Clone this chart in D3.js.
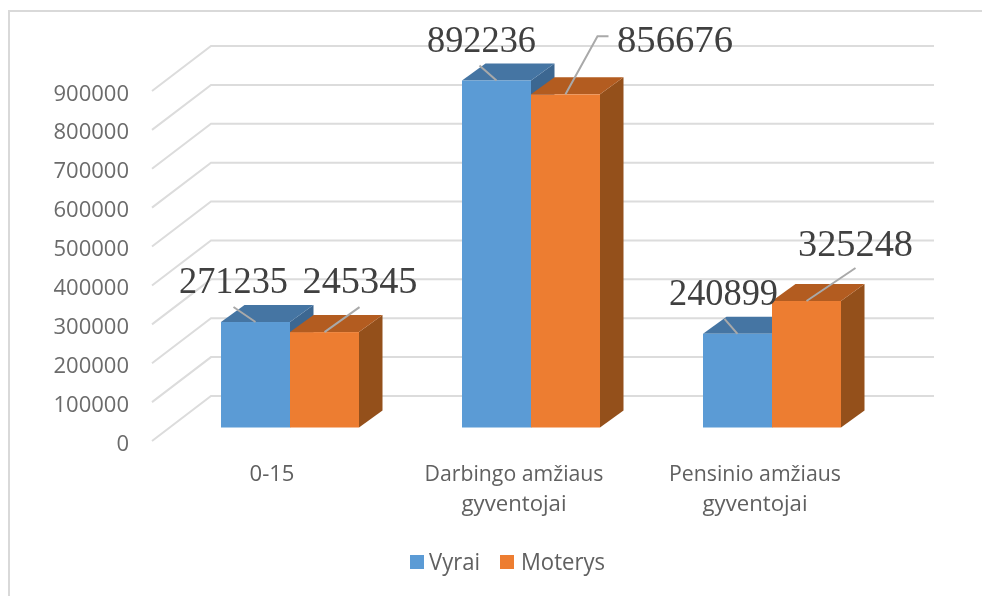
<!DOCTYPE html>
<html><head><meta charset="utf-8">
<script src="https://cdn.jsdelivr.net/npm/d3@7"></script>
<style>html,body{margin:0;padding:0;background:#fff}svg{display:block;filter:blur(0.35px)}</style>
</head><body><svg id="c" width="982" height="596"></svg>
<script>
const categories = ["0-15", "Darbingo amžiaus gyventojai", "Pensinio amžiaus gyventojai"];
const seriesNames = ["Vyrai", "Moterys"];
const vyrai = [271235, 892236, 240899];
const moterys = [245345, 856676, 325248];
const tickValues = [0,100000,200000,300000,400000,500000,600000,700000,800000,900000];

// layout
const svg = d3.select("#c");
const y = d3.scaleLinear().domain([0,900000]).range([441,91]);
const wallDx = 59, wallDy = -45, gridRight = 934, frontX = 152;
const barDy = -13.5, depthX = 23.5, depthY = -17;
const x0 = d3.scaleBand().domain(categories).range([169.5,892.5]);
const x1 = d3.scaleBand().domain(seriesNames).range([51.5,189.5]);
const fills = {
  Vyrai:   {front:"#5b9bd5", top:"#4575a3", side:"#3c6791"},
  Moterys: {front:"#ed7d31", top:"#b35c20", side:"#94501b"}
};

// frame
svg.append("path").attr("d","M9,596V11H982").attr("fill","none").attr("stroke","#d9d9d9").attr("stroke-width",2);

// gridlines on side wall + back wall
svg.append("g").selectAll("path").data(tickValues).join("path")
  .attr("d", d => `M${frontX},${y(d)}L${frontX+wallDx},${y(d)+wallDy}H${gridRight}`)
  .attr("fill","none").attr("stroke","#dcdcdc").attr("stroke-width",2);

// value axis
const ax = svg.append("g").attr("transform","translate(129,2)")
  .call(d3.axisLeft(y).tickValues(tickValues).tickSize(0).tickPadding(0).tickFormat(d3.format("d")));
ax.select(".domain").remove();
ax.selectAll("text").attr("font-family","'Open Sans'").attr("font-size",22).attr("fill","#6b6b6b");

// bars
const rows = seriesNames.map((s,si)=>({s, vals: si===0?vyrai:moterys}));
rows.forEach(r=>{
  const c = fills[r.s];
  const g = svg.append("g");
  const pts = categories.map((cat,i)=>{
    const xl = x0(cat)+x1(r.s), w = x1.bandwidth();
    const base = y(0)+barDy, top = y(r.vals[i])+barDy;
    return {xl,w,base,top};
  });
  g.selectAll("path.side").data(pts).join("path").attr("class","side").attr("fill",c.side)
    .attr("d",d=>`M${d.xl+d.w},${d.top}l${depthX},${depthY}V${d.base+depthY}l${-depthX},${-depthY}Z`);
  g.selectAll("path.top").data(pts).join("path").attr("class","top").attr("fill",c.top)
    .attr("d",d=>`M${d.xl},${d.top}l${depthX},${depthY}h${d.w}l${-depthX},${-depthY}Z`);
  g.selectAll("rect").data(pts).join("rect").attr("fill",c.front)
    .attr("x",d=>d.xl).attr("y",d=>d.top).attr("width",d=>d.w).attr("height",d=>d.base-d.top);
});

// leader lines (offsets relative to bar top centre)
const leaderOffsets = [
  [[-22,-15],[0,0]], [[0,0],[35,-25]],
  [[-17,-15],[0,0]], [[0,0],[32,-58],[43,-58]],
  [[-13,-15],[0,0]], [[0,0],[49,-33]]
];
const labelPos = [[233.5,293,109],[360,293,115],[481.5,52,109],[675,52,116],[723.5,305,109],[855.5,256,115]];
const flat = [];
categories.forEach((cat,i)=>rows.forEach(r=>{
  flat.push({cx:x0(cat)+x1(r.s)+x1.bandwidth()/2, ty:y(r.vals[i])+barDy, v:r.vals[i]});
}));
svg.append("g").selectAll("polyline").data(flat).join("polyline")
  .attr("points",(d,i)=>leaderOffsets[i].map(o=>[d.cx+o[0],d.ty+o[1]].join(",")).join(" "))
  .attr("fill","none").attr("stroke","#a9a9a9").attr("stroke-width",2);
svg.append("g").selectAll("text").data(flat).join("text")
  .attr("x",(d,i)=>labelPos[i][0]).attr("y",(d,i)=>labelPos[i][1])
  .attr("text-anchor","middle").attr("font-family","'Liberation Serif'").attr("font-size",37.5)
  .attr("fill","#404040").attr("textLength",(d,i)=>labelPos[i][2]).attr("lengthAdjust","spacingAndGlyphs")
  .text(d=>d.v);

// category labels
const catLines = [["0-15"],["Darbingo amžiaus","gyventojai"],["Pensinio amžiaus","gyventojai"]];
const catWidths = [[45],[179,105],[172,105]];
const catX = [272,514,755];
const cg = svg.append("g").attr("font-family","'Open Sans'").attr("font-size",22).attr("fill","#606060").attr("text-anchor","middle");
catLines.forEach((ls,i)=>ls.forEach((t,j)=>{
  cg.append("text").attr("x",catX[i]).attr("y",481+j*30).attr("textLength",catWidths[i][j]).attr("lengthAdjust","spacingAndGlyphs").text(t);
}));

// legend
const lg = svg.append("g").attr("font-family","'Open Sans'").attr("font-size",23).attr("fill","#606060");
const legX = [[410,429,51],[500,521,84]];
seriesNames.forEach((s,i)=>{
  lg.append("rect").attr("x",legX[i][0]).attr("y",555).attr("width",14).attr("height",14).attr("fill",fills[s].front);
  lg.append("text").attr("x",legX[i][1]).attr("y",570).attr("textLength",legX[i][2]).attr("lengthAdjust","spacingAndGlyphs").text(s);
});
</script></body></html>
